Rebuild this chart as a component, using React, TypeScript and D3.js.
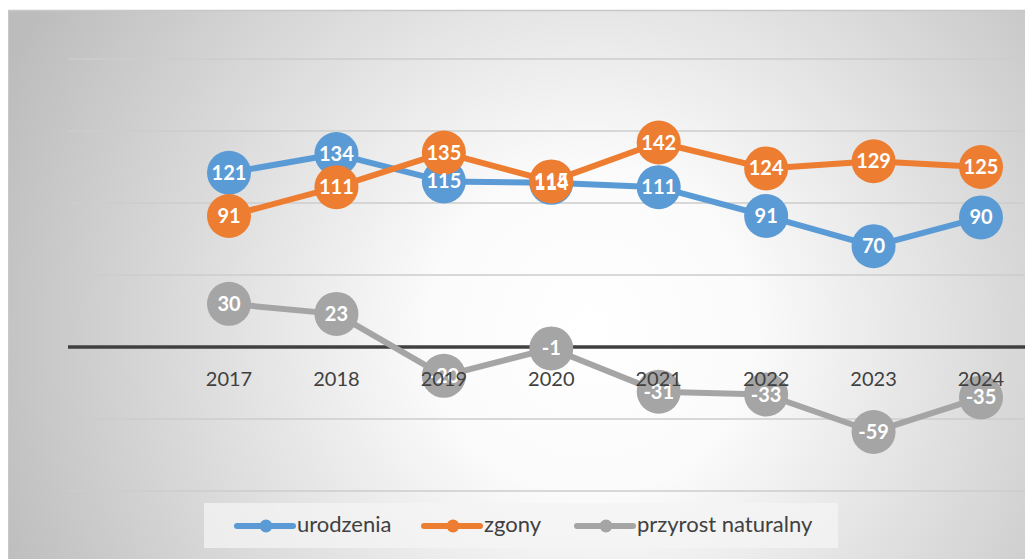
import React from "react";
import * as d3 from "d3";

const years = ["2017", "2018", "2019", "2020", "2021", "2022", "2023", "2024"];
const urodzenia = [121, 134, 115, 114, 111, 91, 70, 90];
const zgony = [91, 111, 135, 115, 142, 124, 129, 125];
const przyrost = [30, 23, -20, -1, -31, -33, -59, -35];
const gridValues = [200, 150, 100, 50, -50, -100];

const seriesList = [
  { name: "urodzenia", values: urodzenia, color: "#5B9BD5" },
  { name: "zgony", values: zgony, color: "#ED7D31" },
  { name: "przyrost naturalny", values: przyrost, color: "#A5A5A5" },
];

const W = 1025;
const H = 559;
const FONT = "Lato, 'Open Sans', sans-serif";

export default function App() {
  const x = d3.scalePoint<string>().domain(years).range([229, 981]);
  const y = d3.scaleLinear().domain([-100, 200]).range([491, 59]);
  const line = d3
    .line<number>()
    .x((_, i) => x(years[i]) as number)
    .y((d) => y(d));

  const legendItems = [
    { x0: 237, tx: 297 },
    { x0: 424, tx: 484 },
    { x0: 577, tx: 637 },
  ];

  return (
    <svg
      width={W}
      height={H}
      style={{ position: "absolute", left: 0, top: 0 }}
      fontFamily={FONT}
    >
      <defs>
        <radialGradient
          id="bg"
          gradientUnits="userSpaceOnUse"
          cx={590}
          cy={330}
          r={640}
        >
          <stop offset="0" stopColor="#ffffff" />
          <stop offset="0.25" stopColor="#fbfbfb" />
          <stop offset="1" stopColor="#bcbcbc" />
        </radialGradient>
      </defs>
      <rect x={0} y={0} width={W} height={H} fill="#ffffff" />
      <rect x={8} y={10} width={W - 8} height={H - 10} fill="url(#bg)" />
      <line x1={8} x2={W} y1={10.5} y2={10.5} stroke="#c8c8c8" strokeWidth={1.5} />
      <line x1={8.5} x2={8.5} y1={10} y2={H} stroke="#c8c8c8" strokeWidth={1} />

      {gridValues.map((v) => (
        <line
          key={v}
          x1={68}
          x2={W}
          y1={y(v)}
          y2={y(v)}
          stroke="#cdcdcd"
          strokeWidth={1.5}
        />
      ))}
      <line x1={68} x2={W} y1={y(0)} y2={y(0)} stroke="#404040" strokeWidth={3.5} />

      {seriesList.map((s) => (
        <g key={s.name}>
          <path
            d={line(s.values) || ""}
            fill="none"
            stroke={s.color}
            strokeWidth={6}
            strokeLinejoin="round"
          />
          {s.values.map((v, i) => (
            <circle key={i} cx={x(years[i])} cy={y(v)} r={22} fill={s.color} />
          ))}
        </g>
      ))}

      {seriesList.map((s) => (
        <g key={s.name + "-lbl"}>
          {s.values.map((v, i) => (
            <text
              key={i}
              x={x(years[i])}
              y={y(v) + 7}
              textAnchor="middle"
              fontSize={20}
              fontWeight="bold"
              fill="#ffffff"
            >
              {v}
            </text>
          ))}
        </g>
      ))}

      {years.map((yr) => (
        <text
          key={yr}
          x={x(yr)}
          y={386}
          textAnchor="middle"
          fontSize={20}
          fill="#404040"
        >
          {yr}
        </text>
      ))}

      <rect x={204} y={503} width={634} height={45} fill="#f4f4f4" opacity={0.75} />
      {seriesList.map((s, i) => (
        <g key={s.name + "-leg"}>
          <line
            x1={legendItems[i].x0}
            x2={legendItems[i].x0 + 56}
            y1={526}
            y2={526}
            stroke={s.color}
            strokeWidth={6}
            strokeLinecap="round"
          />
          <circle cx={legendItems[i].x0 + 29} cy={526} r={6.5} fill={s.color} />
          <text x={legendItems[i].tx} y={532} fontSize={22} fill="#404040">
            {s.name}
          </text>
        </g>
      ))}
    </svg>
  );
}
